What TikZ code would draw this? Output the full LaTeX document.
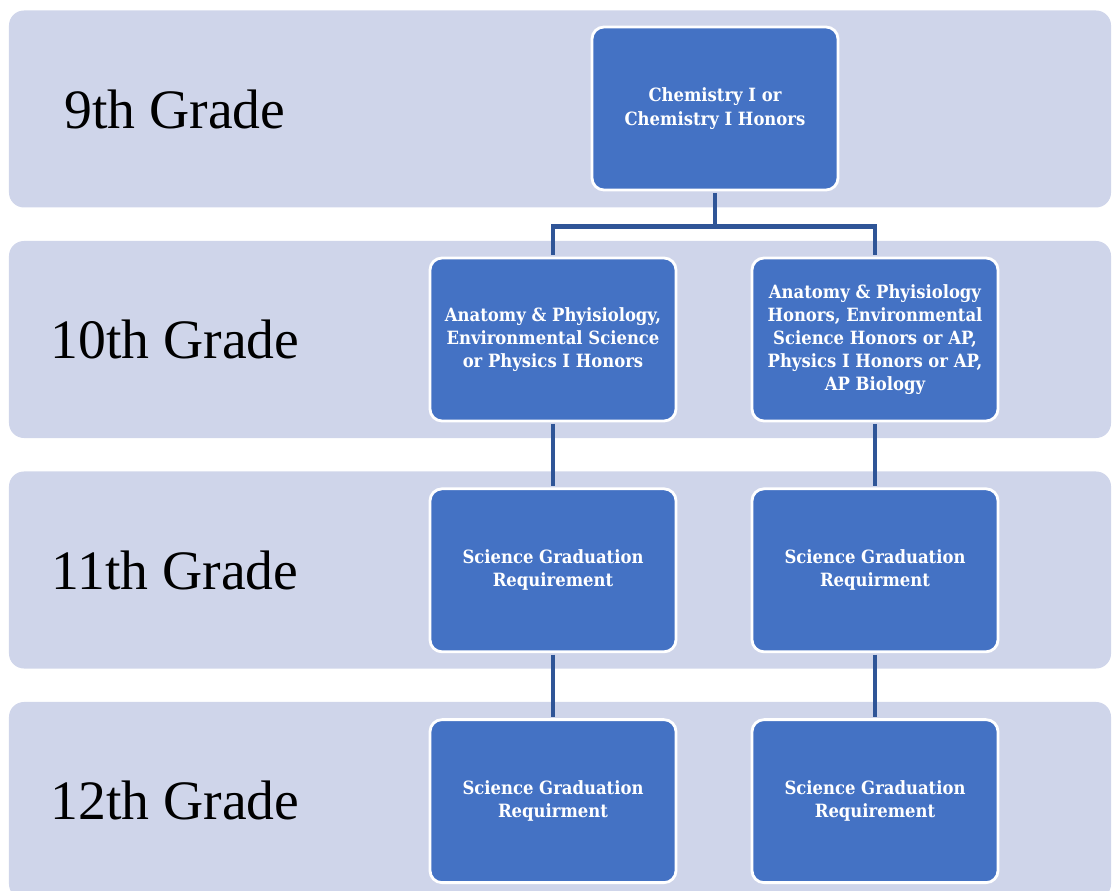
\documentclass[tikz,border=0pt]{standalone}
\usepackage{fontspec}
\setmainfont{Liberation Serif}
\newfontfamily\boxfont{DejaVu Serif Condensed}
\usepackage{xcolor}
\usepackage{tikz}
\usetikzlibrary{positioning, calc}
\definecolor{bandFill}{HTML}{CFD5EA}
\definecolor{courseFill}{HTML}{4472C4}
\definecolor{linkBlue}{HTML}{2F5597}

\begin{document}
\begin{tikzpicture}[
    x=0.03cm, y=0.03cm,
    band/.style={
      rectangle, rounded corners=0.45cm, fill=bandFill,
      minimum width=33.06cm, minimum height=5.91cm, inner sep=0pt
    },
    grade/.style={
      font=\fontsize{47.5}{52}\selectfont, text=black, anchor=center
    },
    course/.style={
      rectangle, rounded corners=0.36cm, draw=white, line width=2.4pt,
      fill=courseFill, minimum width=7.38cm, minimum height=4.89cm,
      font=\boxfont\bfseries\fontsize{15.6}{19.8}\selectfont,
      text=white, align=center, inner sep=2pt
    },
    link/.style={draw=linkBlue, line width=4.2pt,
      shorten <=1.2pt, shorten >=1.2pt},
  ]
  \useasboundingbox (0,0) rectangle (1118,890);
  \clip (0,0) rectangle (1118,890);

  %% ── Grade bands ──
  \node[band] (B9)  at (560,781)   {};
  \node[band] (B10) at (560,550.5) {};
  \node[band] (B11) at (560,320)   {};
  \node[band] (B12) at (560,89.5)  {};

  \node[grade] (G9)  at (175,781)   {9th Grade};
  \node[grade] (G10) at (175,550.5) {10th Grade};
  \node[grade] (G11) at (175,320)   {11th Grade};
  \node[grade] (G12) at (175,89.5)  {12th Grade};

  %% ── 9th grade ──
  \node[course] (C9) at (715,781.5) {Chemistry I or\\Chemistry I Honors};

  %% ── 10th grade ──
  \node[course] (A10) at (553,550.5)
    {Anatomy \& Phyisiology,\\Environmental Science\\or Physics I Honors};
  \node[course] (H10) at (875,550.5)
    {Anatomy \& Phyisiology\\Honors, Environmental\\Science Honors or AP,\\Physics I Honors or AP,\\AP Biology};

  %% ── 11th grade ──
  \node[course, below=1.95cm of A10] (A11) {Science Graduation\\Requirement};
  \node[course, below=1.95cm of H10] (H11) {Science Graduation\\Requirment};

  %% ── 12th grade ──
  \node[course, below=1.95cm of A11] (A12) {Science Graduation\\Requirment};
  \node[course, below=1.95cm of H11] (H12) {Science Graduation\\Requirement};

  %% ── Links ──
  \draw[link, shorten >=0pt] (C9.south) -- ++(0,-35) coordinate (split);
  \draw[link, shorten <=0pt] (split) -| (A10.north);
  \draw[link, shorten <=0pt] (split) -| (H10.north);
  \draw[link] (A10) -- (A11);
  \draw[link] (H10) -- (H11);
  \draw[link] (A11) -- (A12);
  \draw[link] (H11) -- (H12);

\end{tikzpicture}
\end{document}
